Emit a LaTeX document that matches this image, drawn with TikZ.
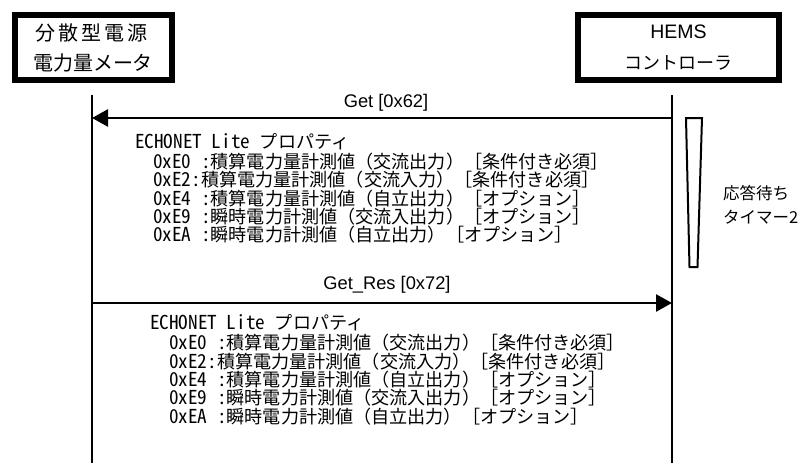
\documentclass[tikz,border=0pt]{standalone}
\usepackage{fontspec}
\usetikzlibrary{arrows.meta}
\setmainfont{Liberation Sans}
\newfontfamily\jp{Noto Sans CJK JP}
\newfontfamily\jph[RawFeature=+hwid, Scale=1.06]{Noto Sans CJK JP}
\newcommand\hw[1]{{\jph #1}}
\newcommand\hs{{\jph\hspace*{0.5em}}}
\newcommand\lineA{\hw{ECHONET}\hs\hw{Lite}\hs プロパティ}
\newcommand\lineB{\hw{0xE0}\hs\hw{:}積算電力量計測値（交流出力）［条件付き必須］}
\newcommand\lineC{\hw{0xE2:}積算電力量計測値（交流入力）［条件付き必須］}
\newcommand\lineD{\hw{0xE4}\hs\hw{:}積算電力量計測値（自立出力）［オプション］}
\newcommand\lineE{\hw{0xE9}\hs\hw{:}瞬時電力計測値（交流入出力）［オプション］}
\newcommand\lineF{\hw{0xEA}\hs\hw{:}瞬時電力計測値（自立出力）［オプション］}
\tikzset{
  actorbox/.style={draw=black, line width=6.5pt, inner sep=0pt},
  lifeline/.style={line width=1.6pt},
  msg/.style={line width=2.5pt, -{Triangle[length=16pt,width=17pt]}},
  msglabel/.style={font=\fontsize{18.3}{20}\selectfont, inner sep=0pt},
  prop/.style={font=\jp\fontsize{18.1}{19}\selectfont, anchor=base west, inner sep=0pt},
  timer/.style={line width=2pt},
  timerlabel/.style={font=\jp\fontsize{16.5}{18}\selectfont, anchor=west, inner sep=0pt}
}
\begin{document}
\begin{tikzpicture}[x=1pt, y=-1pt]
\useasboundingbox (0,0) rectangle (801,463);
% actor boxes
\node[actorbox, minimum width=157pt, minimum height=65pt] (dev) at (93.5,47.5) {};
\node[font=\jp\fontsize{20}{22}\selectfont, inner sep=0pt] (devA) at (91,33) {\makebox[112pt][s]{分\hfill 散\hfill 型\hfill 電\hfill 源}};
\node[font=\jp\fontsize{20}{22}\selectfont, inner sep=0pt] (devB) at (93,63) {電力量メータ};
\node[actorbox, minimum width=201pt, minimum height=65pt] (hems) at (678.5,47.5) {};
\node[font=\fontsize{19.5}{21}\selectfont, inner sep=0pt] (hemsA) at (678.5,32) {HEMS};
\node[font=\jp\fontsize{18}{20}\selectfont, inner sep=0pt] (hemsB) at (678,63) {コントローラ};
% lifelines
\coordinate (lt) at (92,95);
\coordinate (lb) at (92,463);
\coordinate (rt) at (672,95);
\coordinate (rb) at (672,463);
\draw[lifeline] (lt) -- (lb);
\draw[lifeline] (rt) -- (rb);
% messages
\coordinate (g1) at (672,118);
\coordinate (g2) at (92,118);
\coordinate (r1) at (92,303);
\coordinate (r2) at (672,303);
\draw[msg] (g1) -- (g2);
\node[msglabel] (getl) at (386,103) {Get [0x62]};
\draw[msg] (r1) -- (r2);
\node[msglabel] (resl) at (387,285) {Get\_Res [0x72]};
% property blocks
\node[prop] (a0) at (135,148.6) {\lineA};
\node[prop] (a1) at (153,168.6) {\lineB};
\node[prop] (a2) at (153,186.8) {\lineC};
\node[prop] (a3) at (153,205.0) {\lineD};
\node[prop] (a4) at (153,223.4) {\lineE};
\node[prop] (a5) at (153,241.6) {\lineF};
\node[prop] (b0) at (150,329.6) {\lineA};
\node[prop] (b1) at (169,349.6) {\lineB};
\node[prop] (b2) at (169,368.0) {\lineC};
\node[prop] (b3) at (169,386.4) {\lineD};
\node[prop] (b4) at (169,404.8) {\lineE};
\node[prop] (b5) at (169,423.2) {\lineF};
% timer
\draw[timer] (686,118) -- (702,118) -- (697.5,267) -- (689.5,267) -- cycle;
\node[timerlabel] (t1) at (723,193) {応答待ち};
\node[timerlabel] (t2) at (723,217) {タイマー2};
\end{tikzpicture}
\end{document}
